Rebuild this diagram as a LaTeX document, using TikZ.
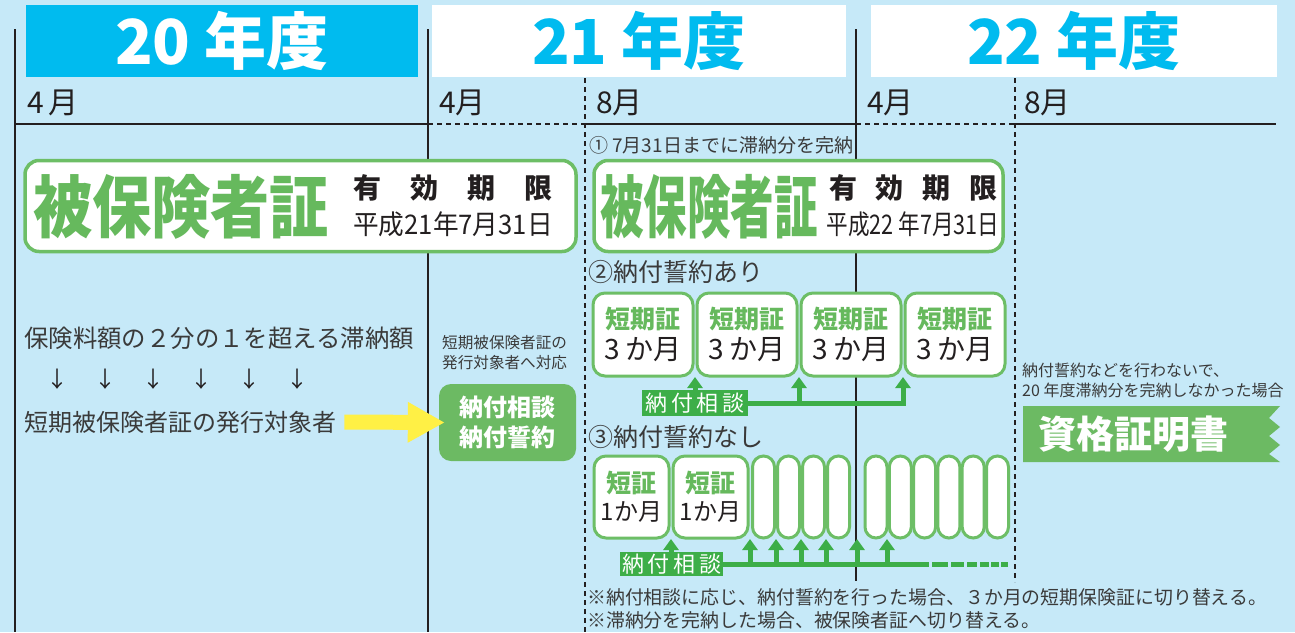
\documentclass[tikz,border=0pt]{standalone}
\usepackage{fontspec}
\setmainfont{Noto Sans CJK JP}
\newfontfamily\certA[FakeStretch=0.87]{Noto Sans CJK JP}
\newfontfamily\certB[FakeStretch=0.64]{Noto Sans CJK JP}
\newfontfamily\dateA[FakeStretch=0.95]{Noto Sans CJK JP}
\newfontfamily\dateB[FakeStretch=0.8]{Noto Sans CJK JP}
\usetikzlibrary{arrows.meta}
\definecolor{bgblue}{HTML}{C6E9F8}
\definecolor{yearcyan}{HTML}{00BBEF}
\definecolor{gborder}{HTML}{6DBE66}
\definecolor{gtext}{HTML}{66B95D}
\definecolor{garrow}{HTML}{3DAE48}
\definecolor{gfill}{HTML}{6CBA63}
\definecolor{ink}{HTML}{231F20}
\definecolor{graytxt}{HTML}{3A3A3A}
\definecolor{yarr}{HTML}{FFF045}
\newcommand\fsz[1]{\fontsize{#1}{#1}\selectfont}
\begin{document}
\begin{tikzpicture}[x=1pt,y=-1pt,
  yearbox/.style={inner sep=0, minimum height=72, font=\fsz{62}\bfseries},
  axisline/.style={ink, line width=2},
  axisdash/.style={ink, line width=2, dash pattern=on 5pt off 4pt},
  month/.style={inner sep=0, anchor=west, font=\fsz{30}, text=ink},
  certbox/.style={draw=gborder, line width=3.5, fill=white, rounded corners=14, inner sep=0, minimum height=91},
  certbig/.style={inner sep=0, anchor=west, text=gtext},
  certsmall/.style={inner sep=0, text=ink, font=\fsz{28}\bfseries},
  certdate/.style={inner sep=0, text=ink},
  note/.style={inner sep=0, anchor=west, text=graytxt},
  shortbox/.style={draw=gborder, line width=3, fill=white, rounded corners=12, inner sep=0, minimum width=100, minimum height=83, align=center},
  pill/.style={draw=gborder, line width=3, fill=white, rounded corners=11, inner sep=0, minimum width=22, minimum height=82},
  glabel/.style={fill=garrow, text=white, inner sep=0, minimum width=106, minimum height=26, font=\fsz{22}},
  garr/.style={garrow, line width=5, -{Triangle[length=11pt,width=15pt]}},
  gline/.style={garrow, line width=5},
]
\fill[bgblue] (0,0) rectangle (1295,632);
\useasboundingbox (0,0) rectangle (1295,632);

% year headers
\node[yearbox, fill=yearcyan, text=white, minimum width=392] (y20) at (222,40.5) {20 年度};
\node[yearbox, fill=white, text=yearcyan, minimum width=414] (y21) at (639,40.5) {21 年度};
\node[yearbox, fill=white, text=yearcyan, minimum width=406] (y22) at (1074,40.5) {22 年度};

% time axis
\draw[axisline] (15,29) -- (15,632);
\draw[axisline] (428,29) -- (428,632);
\draw[axisline] (856,29) -- (856,581);
\draw[axisdash] (585,78) -- (585,632);
\draw[axisdash] (1015,78) -- (1015,582);
\draw[axisline] (15,124) -- (428,124);
\draw[axisdash] (428,124) -- (585,124);
\draw[axisline] (585,124) -- (856,124);
\draw[axisdash] (856,124) -- (1015,124);
\draw[axisline] (1015,124) -- (1276,124);

\node[month] (m1) at (27,103) {4\,月};
\node[month] (m2) at (439,103) {4月};
\node[month] (m3) at (596,103) {8月};
\node[month] (m4) at (867,103) {4月};
\node[month] (m5) at (1024,103) {8月};

% certificate 1
\node[certbox, minimum width=551] (c1) at (300.5,206) {};
\node[certbig, font=\certA\fsz{68}\bfseries] (c1t) at (33,207) {被保険者証};
\node[certsmall] (c1a) at (453,188) {\makebox[200pt][s]{有\hfill 効\hfill 期\hfill 限}};
\node[certdate, font=\dateA\fsz{27}] (c1b) at (453,224) {平成21年7月31日};

% certificate 2
\node[note, font=\fsz{19}] (s1) at (589,145) {① 7月31日までに滞納分を完納};
\node[certbox, minimum width=409] (c2) at (798.5,206) {};
\node[certbig, font=\certB\fsz{68}\bfseries] (c2t) at (600,207) {被保険者証};
\node[certsmall] (c2a) at (913,188) {\makebox[168pt][s]{有\hfill 効\hfill 期\hfill 限}};
\node[certdate, font=\dateB\fsz{27}] (c2b) at (913,224) {平成22\,年7月31日};

% case 2
\node[note, font=\fsz{25}] (s2) at (588,272) {②納付誓約あり};
\foreach \i/\x in {1/643,2/747,3/851,4/955}{
  \node[shortbox] (k\i) at (\x,334.5) {{\fsz{25}\bfseries\color{gtext}短期証}\\[5pt]{\fsz{28}\color{ink}3 か月}};
}
\node[glabel] (n2) at (695,403) {納\,付\,相\,談};
\coordinate (t1) at (695,377);
\coordinate (t2) at (799,377);
\coordinate (t3) at (903,377);
\draw[garr] (t1 |- n2.north) -- (t1);
\draw[garr] (n2.east) -- (t3 |- n2.east) -- (t3);
\draw[garr] (t2 |- n2.east) -- (t2);

% case 3
\node[note, font=\fsz{25}] (s3) at (588,437) {③納付誓約なし};
\node[shortbox, minimum width=75, minimum height=82] (r1) at (631.5,497) {{\fsz{25}\bfseries\color{gtext}短証}\\[6pt]{\fsz{24}\color{ink}1か月}};
\node[shortbox, minimum width=75, minimum height=82] (r2) at (710.5,497) {{\fsz{25}\bfseries\color{gtext}短証}\\[6pt]{\fsz{24}\color{ink}1か月}};
\foreach \i/\x in {1/763.5,2/788.5,3/813.5,4/838.5,5/876,6/900.3,7/924.6,8/948.9,9/973.2,10/997.5}{
  \node[pill] (p\i) at (\x,497) {};
}
\node[glabel, minimum width=103, minimum height=24] (n3) at (671.5,564) {納\,付\,相\,談};
\coordinate (u0) at (671,539);
\coordinate (ue) at (929,564);
\draw[garr] (u0 |- n3.north) -- (u0);
\draw[gline] (n3.east) -- (ue);
\foreach \a/\b in {932/948,951/964,967/977,980/989,991/999,1001/1008}{
  \draw[gline] (\a,564) -- (\b,564);
}
\foreach \x in {750,776,801,826,857,887}{
  \draw[garr] (\x,564) -- (\x,539);
}

% left column
\node[note, font=\fsz{24.4}] (t0) at (24,338) {保険料額の２分の１を超える滞納額};
\foreach \i/\x in {1/57,2/105,3/153,4/201,5/249,6/297}{
  \node[inner sep=0, text=ink, font=\fsz{22}] (dn\i) at (\x,379) {↓};
}
\node[note, font=\fsz{24}] (tg) at (24,422) {短期被保険者証の発行対象者};

% consultation box
\node[note, font=\fsz{15.6}, align=left] (sm) at (442,352.5) {短期被保険者証の\\[5pt]発行対象者へ対応};
\node[fill=gfill, rounded corners=12, minimum width=137, minimum height=77, inner sep=0, text=white, font=\fsz{24}\bfseries, align=center] (nb) at (507.5,422.5) {納付相談\\[6pt]納付誓約};
\draw[yarr, line width=15, -{Triangle[length=37pt,width=38pt]}] ([xshift=8pt]tg.east) -- ([xshift=6pt]nb.west);

% right column
\node[note, font=\fsz{16}, align=left] (rt) at (1022,380.5) {納付誓約などを行わないで、\\[4pt]20 年度滞納分を完納しなかった場合};
\fill[gfill] (1023,406) -- (1280,406) -- (1269,418) -- (1280,427) -- (1269,436) -- (1280,445) -- (1269,454) -- (1280,462) -- (1023,462) -- cycle;
\node[inner sep=0, text=white, font=\fsz{38}\bfseries] (shk) at (1133,434) {資格証明書};

% footnotes
\node[note, font=\fsz{18.9}] (f1) at (587,597) {※納付相談に応じ、納付誓約を行った場合、３か月の短期保険証に切り替える。};
\node[note, font=\fsz{18.9}] (f2) at (587,620) {※滞納分を完納した場合、被保険者証へ切り替える。};
\end{tikzpicture}
\end{document}
